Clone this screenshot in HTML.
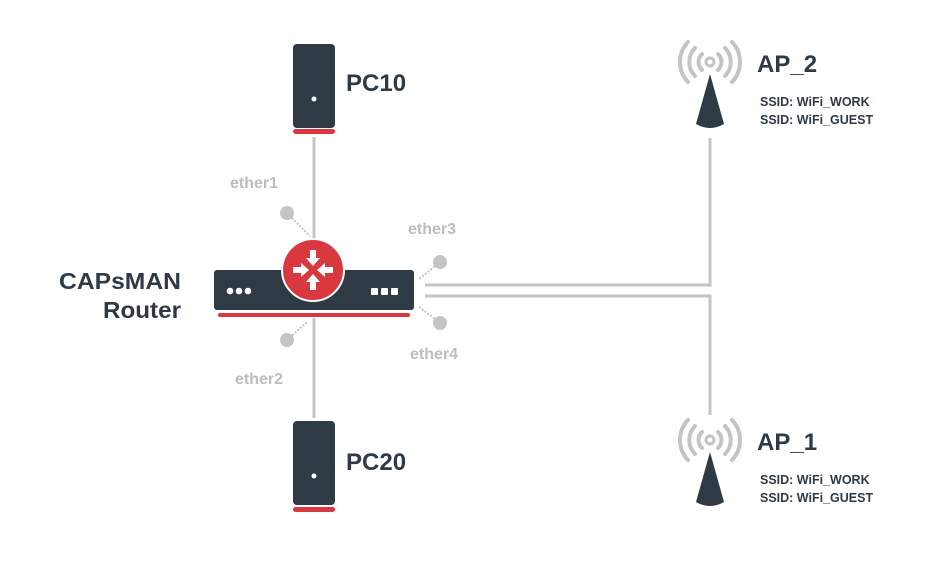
<!DOCTYPE html>
<html><head><meta charset="utf-8"><style>
html,body{margin:0;padding:0;background:#fff;}
svg text{font-family:"Liberation Sans",sans-serif;font-weight:bold;}
</style></head><body>
<svg width="950" height="557" viewBox="0 0 950 557" xmlns="http://www.w3.org/2000/svg">
<g stroke="#c4c4c4" stroke-width="3" fill="none">
<line x1="314" y1="137" x2="314" y2="242"/>
<line x1="314" y1="318" x2="314" y2="418"/>
<polyline points="425,285 710,285 710,138"/>
<polyline points="425,296 710,296 710,415"/>
</g>
<g stroke="#c4c4c4" stroke-width="2" stroke-dasharray="2,1.5">
<line x1="287" y1="213" x2="310" y2="236"/>
<line x1="287" y1="340" x2="307" y2="322"/>
<line x1="440" y1="262" x2="418" y2="280"/>
<line x1="440" y1="323" x2="418" y2="306"/>
</g>
<g fill="#c4c4c4">
<circle cx="287" cy="213" r="7"/><circle cx="287" cy="340" r="7"/>
<circle cx="440" cy="262" r="7"/><circle cx="440" cy="323" r="7"/>
</g>
<g font-size="16" fill="#bdbdbd">
<text x="230" y="188">ether1</text>
<text x="235" y="384">ether2</text>
<text x="408" y="234">ether3</text>
<text x="410" y="359">ether4</text>
</g>
<rect x="293" y="44" width="42" height="84" rx="4" fill="#2f3a45"/>
<circle cx="314" cy="99" r="2.5" fill="#fff"/>
<rect x="293" y="129" width="42" height="5" rx="2.5" fill="#d9383e"/>
<text x="346" y="91" font-size="24" fill="#2f3a45">PC10</text>
<rect x="293" y="421" width="42" height="84" rx="4" fill="#2f3a45"/>
<circle cx="314" cy="476" r="2.5" fill="#fff"/>
<rect x="293" y="507" width="42" height="5" rx="2.5" fill="#d9383e"/>
<text x="346" y="470" font-size="24" fill="#2f3a45">PC20</text>
<rect x="214" y="270" width="200" height="40" rx="3" fill="#2f3a45"/>
<rect x="218" y="313" width="192" height="4" rx="2" fill="#d9383e"/>
<g fill="#fff"><circle cx="230" cy="291" r="3.3"/><circle cx="239" cy="291" r="3.3"/><circle cx="248" cy="291" r="3.3"/>
<rect x="371" y="288" width="7" height="7" rx="1"/><rect x="381" y="288" width="7" height="7" rx="1"/><rect x="391" y="288" width="7" height="7" rx="1"/></g>
<circle cx="313" cy="270" r="31" fill="#d9383e" stroke="#fff" stroke-width="2"/>
<g fill="#fff">
<path d="M310,250 h6 v8 h4 l-7,8 l-7,-8 h4 z"/>
<path d="M310,290 h6 v-8 h4 l-7,-8 l-7,8 h4 z"/>
<path d="M293,267 v6 h8 v4 l8,-7 l-8,-7 v4 z"/>
<path d="M333,267 v6 h-8 v4 l-8,-7 l8,-7 v4 z"/>
</g>
<text x="181" y="289" font-size="23" fill="#2f3a45" text-anchor="end" textLength="122" lengthAdjust="spacingAndGlyphs">CAPsMAN</text>
<text x="181" y="318" font-size="23" fill="#2f3a45" text-anchor="end" textLength="78" lengthAdjust="spacingAndGlyphs">Router</text>
<g>
<g fill="none" stroke="#c4c4c4" stroke-width="4" stroke-linecap="round">
<path d="M702,54 a11,11 0 0,0 0,16"/><path d="M718,54 a11,11 0 0,1 0,16"/>
<path d="M695,48 a20,20 0 0,0 0,28"/><path d="M725,48 a20,20 0 0,1 0,28"/>
<path d="M688,42 a29,29 0 0,0 0,40"/><path d="M732,42 a29,29 0 0,1 0,40"/>
</g>
<circle cx="710" cy="62" r="4" fill="none" stroke="#c4c4c4" stroke-width="3"/>
<path d="M710,74 L724,124 Q710,132 696,124 Z" fill="#2f3a45"/>
</g>
<g transform="translate(0,378)">
<g fill="none" stroke="#c4c4c4" stroke-width="4" stroke-linecap="round">
<path d="M702,54 a11,11 0 0,0 0,16"/><path d="M718,54 a11,11 0 0,1 0,16"/>
<path d="M695,48 a20,20 0 0,0 0,28"/><path d="M725,48 a20,20 0 0,1 0,28"/>
<path d="M688,42 a29,29 0 0,0 0,40"/><path d="M732,42 a29,29 0 0,1 0,40"/>
</g>
<circle cx="710" cy="62" r="4" fill="none" stroke="#c4c4c4" stroke-width="3"/>
<path d="M710,74 L724,124 Q710,132 696,124 Z" fill="#2f3a45"/>
</g>
<text x="757" y="72" font-size="24" fill="#2f3a45">AP_2</text>
<text x="760" y="106" font-size="12.5" fill="#2f3a45">SSID: WiFi_WORK</text>
<text x="760" y="124" font-size="12.5" fill="#2f3a45">SSID: WiFi_GUEST</text>
<text x="757" y="450" font-size="24" fill="#2f3a45">AP_1</text>
<text x="760" y="484" font-size="12.5" fill="#2f3a45">SSID: WiFi_WORK</text>
<text x="760" y="502" font-size="12.5" fill="#2f3a45">SSID: WiFi_GUEST</text>
</svg>
</body></html>
